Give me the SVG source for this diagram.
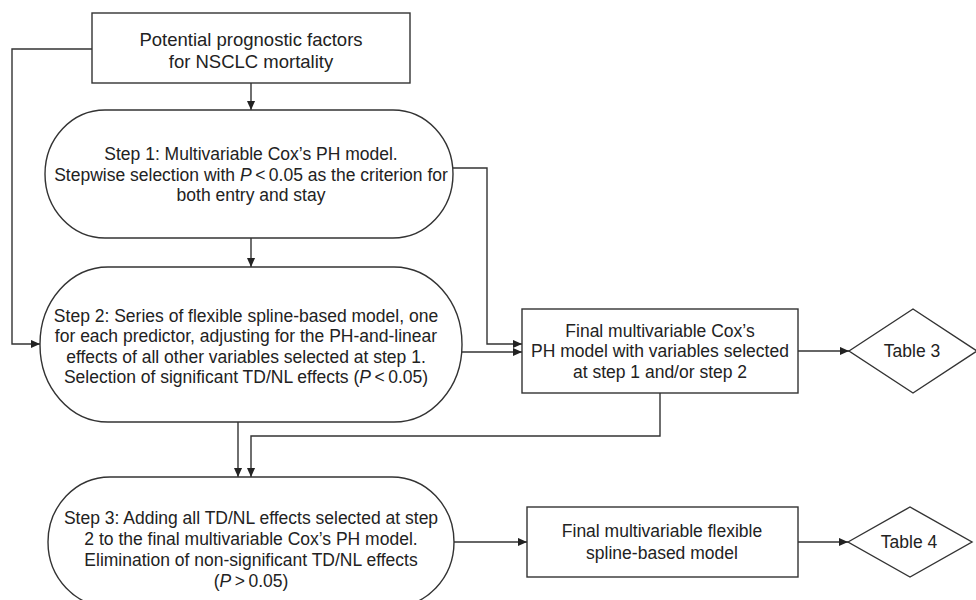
<svg xmlns="http://www.w3.org/2000/svg" width="976" height="600" viewBox="0 0 976 600">
<defs>
<marker id="ah" viewBox="0 0 10 10" refX="10" refY="5" markerWidth="9" markerHeight="9" markerUnits="userSpaceOnUse" orient="auto">
<path d="M0,0.5 L10,5 L0,9.5 z" fill="#222"/>
</marker>
<style>
.box{fill:#fff;stroke:#333;stroke-width:1.4}
.t{font-family:"Liberation Sans",Arial,Helvetica,sans-serif;font-size:17.5px;fill:#222;text-anchor:middle}
.big{font-size:18.5px}
.c{fill:none;stroke:#333;stroke-width:1.4;marker-end:url(#ah)}
.i{font-style:italic}
</style>
</defs>
<rect width="976" height="600" fill="#fff"/>
<g id="connectors">
<path class="c" d="M251,83 V110"/>
<path class="c" d="M92,49 H12 V344 H40"/>
<path class="c" d="M251,238 V267"/>
<path class="c" d="M453,168 H487 V344 H522"/>
<path class="c" d="M462,352 H522"/>
<path class="c" d="M798,351 H849"/>
<path class="c" d="M660,393 V436 H251 V477"/>
<path class="c" d="M238,422 V477"/>
<path class="c" d="M454,542 H527"/>
<path class="c" d="M798,542 H848"/>
</g>
<g id="factors">
<rect class="box" x="92" y="13" width="318" height="70"/>
<text class="t big" x="251" y="46">Potential prognostic factors</text>
<text class="t big" x="251" y="68">for NSCLC mortality</text>
</g>
<g id="step1">
<rect class="box" x="45" y="110" width="408" height="128" rx="60" ry="64"/>
<text class="t" x="251" y="160">Step 1: Multivariable Cox’s PH model.</text>
<text class="t" x="251" y="181">Stepwise selection with <tspan class="i">P</tspan>&#8201;&lt;&#8201;0.05 as the criterion for</text>
<text class="t" x="251" y="201">both entry and stay</text>
</g>
<g id="step2">
<rect class="box" x="40" y="267" width="422" height="155" rx="68" ry="77"/>
<text class="t" x="246" y="322">Step 2: Series of flexible spline-based model, one</text>
<text class="t" x="246" y="342">for each predictor, adjusting for the PH-and-linear</text>
<text class="t" x="246" y="363">effects of all other variables selected at step 1.</text>
<text class="t" x="246" y="383">Selection of significant TD/NL effects (<tspan class="i">P</tspan>&#8201;&lt;&#8201;0.05)</text>
</g>
<g id="finalcox">
<rect class="box" x="522" y="309" width="276" height="84"/>
<text class="t" x="660" y="337">Final multivariable Cox’s</text>
<text class="t" x="660" y="357">PH model with variables selected</text>
<text class="t" x="660" y="378">at step 1 and/or step 2</text>
</g>
<g id="table3">
<path class="box" d="M849,351 L913,309 L977,351 L913,393 Z"/>
<text class="t" x="912" y="357">Table 3</text>
</g>
<g id="step3">
<rect class="box" x="48" y="477" width="406" height="130" rx="62" ry="65"/>
<text class="t" x="251" y="524">Step 3: Adding all TD/NL effects selected at step</text>
<text class="t" x="251" y="545">2 to the final multivariable Cox’s PH model.</text>
<text class="t" x="251" y="566">Elimination of non-significant TD/NL effects</text>
<text class="t" x="251" y="587">(<tspan class="i">P</tspan>&#8201;&gt;&#8201;0.05)</text>
</g>
<g id="finalspline">
<rect class="box" x="527" y="507" width="271" height="70"/>
<text class="t" x="662" y="537">Final multivariable flexible</text>
<text class="t" x="662" y="559">spline-based model</text>
</g>
<g id="table4">
<path class="box" d="M848,542 L910,507 L972,542 L910,577 Z"/>
<text class="t" x="909" y="548">Table 4</text>
</g>
</svg>
